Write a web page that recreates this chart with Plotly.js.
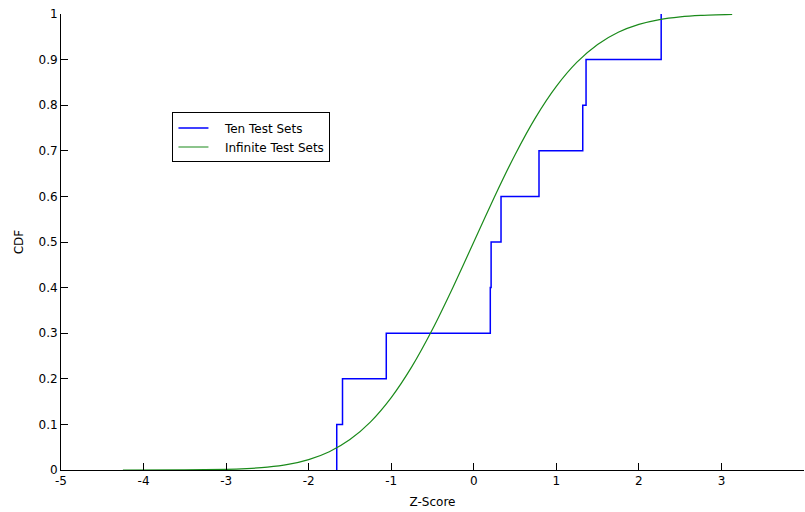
<!DOCTYPE html>
<html>
<head>
<meta charset="utf-8">
<script src="https://cdn.plot.ly/plotly-3.0.1.min.js"></script>
<style>html,body{margin:0;padding:0;background:#fff;}#chart{width:805px;height:512px;}</style>
</head>
<body>
<div id="chart"></div>
<script>
// Ten Test Sets: empirical CDF (stairs)
const tenX = [-1.66, -1.66, -1.59, -1.06, 0.20, 0.21, 0.33, 0.79, 1.32, 1.36, 2.27];
const tenY = [0, 0.1, 0.2, 0.3, 0.4, 0.5, 0.6, 0.7, 0.8, 0.9, 1.0];

// Infinite Test Sets: smooth CDF
const infX = [-4.25, -3.5, -3.0, -2.75, -2.5, -2.25, -2.0, -1.75, -1.5, -1.25, -1.0, -0.75, -0.5, -0.25, 0, 0.25, 0.5, 0.75, 1.0, 1.25, 1.5, 1.75, 2.0, 2.25, 2.5, 2.75, 3.13];
const infY = [0.0000, 0.0002, 0.0013, 0.0030, 0.0062, 0.0122, 0.0228, 0.0401, 0.0668, 0.1056, 0.1587, 0.2266, 0.3085, 0.4013, 0.5, 0.5987, 0.6915, 0.7734, 0.8413, 0.8944, 0.9332, 0.9599, 0.9772, 0.9878, 0.9938, 0.9970, 0.9991];

const xTicks = [-5, -4, -3, -2, -1, 0, 1, 2, 3, 4];
const yTicks = [0, 0.1, 0.2, 0.3, 0.4, 0.5, 0.6, 0.7, 0.8, 0.9, 1];
const yTickText = ['0', '0.1', '0.2', '0.3', '0.4', '0.5', '0.6', '0.7', '0.8', '0.9', '1'];
const seriesNames = ['Ten Test Sets', 'Infinite Test Sets'];

const pad = '\u00a0\u00a0\u00a0';
const traces = [
  {x: tenX, y: tenY, type: 'scatter', mode: 'lines', name: pad + seriesNames[0],
   line: {color: '#0000ff', width: 1.5, shape: 'hv'}},
  {x: infX, y: infY, type: 'scatter', mode: 'lines', name: pad + seriesNames[1],
   line: {color: '#1a8a1a', width: 1.2, shape: 'spline', smoothing: 0.6}}
];

const font = {family: 'DejaVu Sans, sans-serif', size: 12, color: '#000'};

const layout = {
  width: 805, height: 512,
  margin: {l: 61, r: 1, t: 14, b: 42, pad: 0},
  paper_bgcolor: '#fff', plot_bgcolor: '#fff',
  font: font,
  showlegend: true,
  legend: {x: 0.150, y: 0.784, xanchor: 'left', yanchor: 'top',
           bordercolor: '#000', borderwidth: 1, bgcolor: '#fff',
           font: {family: font.family, size: 12, color: '#000'},
           tracegroupgap: 0},
  xaxis: {range: [-5, 4], tickvals: xTicks, ticktext: xTicks.map(String),
          ticks: 'inside', ticklen: 7, tickcolor: '#000', tickwidth: 1,
          showline: true, linecolor: '#000', linewidth: 1, mirror: false,
          showgrid: false, zeroline: false, automargin: false,
          tickfont: font,
          title: {text: 'Z-Score', font: font, standoff: 10}},
  yaxis: {range: [0, 1], tickvals: yTicks, ticktext: yTickText,
          ticks: 'inside', ticklen: 7, tickcolor: '#000', tickwidth: 1,
          showline: true, linecolor: '#000', linewidth: 1, mirror: false,
          showgrid: false, zeroline: false, automargin: false,
          tickfont: font,
          title: {text: 'CDF', font: font, standoff: 12}}
};

Plotly.newPlot('chart', traces, layout, {staticPlot: true, displayModeBar: false});
</script>
</body>
</html>
